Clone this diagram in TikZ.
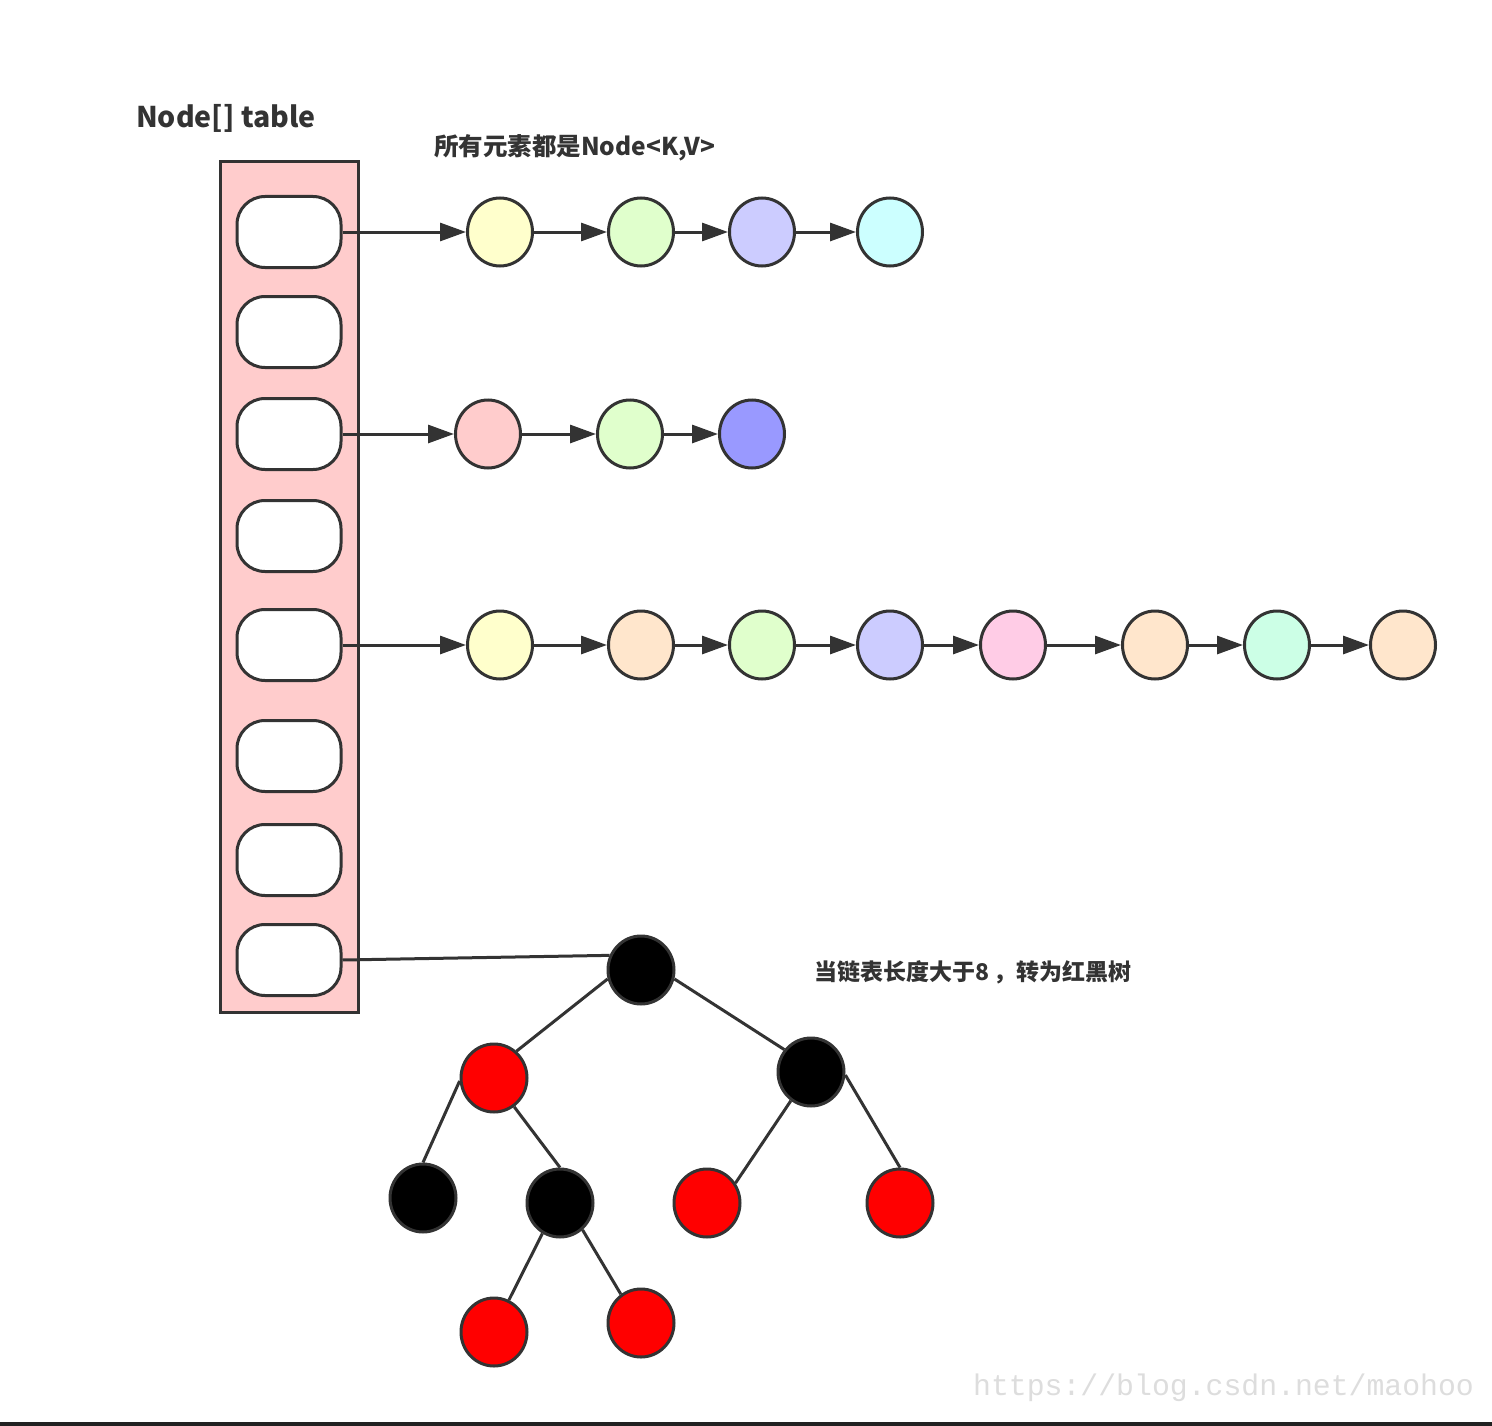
\documentclass[tikz,border=0pt]{standalone}
\usepackage{fontspec}
\newfontfamily\cjk{Noto Sans CJK SC}
\setmonofont{Liberation Mono}
\usetikzlibrary{arrows.meta,shapes.geometric}
\definecolor{ln}{HTML}{333333}
\definecolor{tbl}{HTML}{FFCCCC}
\definecolor{cY}{HTML}{FFFFCC}
\definecolor{cG}{HTML}{E0FFCC}
\definecolor{cL}{HTML}{CCCCFF}
\definecolor{cC}{HTML}{CCFFFF}
\definecolor{cP}{HTML}{FFCCCC}
\definecolor{cB}{HTML}{9999FF}
\definecolor{cO}{HTML}{FFE6CC}
\definecolor{cK}{HTML}{FFCCE6}
\definecolor{cM}{HTML}{CCFFE6}
\definecolor{rr}{HTML}{FF0000}
\definecolor{wm}{HTML}{DDDDDD}
\begin{document}
\begin{tikzpicture}[x=1pt,y=-1pt,
  slot/.style={draw=ln,line width=3pt,fill=white,rounded corners=28pt,minimum width=104pt,minimum height=71pt,inner sep=0pt},
  elem/.style={ellipse,draw=ln,line width=3pt,minimum width=65pt,minimum height=68pt,inner sep=0pt},
  tnode/.style={ellipse,draw=ln,line width=3pt,minimum width=66pt,minimum height=68pt,inner sep=0pt},
  link/.style={draw=ln,line width=3pt,-{Triangle[length=26pt,width=18pt]}},
  edge/.style={draw=ln,line width=3pt},
  lbl/.style={text=ln,font=\cjk\bfseries,inner sep=0pt}]
\useasboundingbox (0,0) rectangle (1492,1426);
\fill[white] (0,0) rectangle (1492,1426);
\fill[black!87] (0,1422) rectangle (1492,1426);
% table
\node[draw=ln,line width=3pt,fill=tbl,minimum width=138pt,minimum height=850pt,inner sep=0pt] (tab) at (289,587) {};
\node[lbl,font=\cjk\bfseries\fontsize{28.5}{32}\selectfont,anchor=west] (title) at (136,118) {Node[] table};
\node[lbl,font=\cjk\bfseries\fontsize{24.5}{28}\selectfont,anchor=west] (note1) at (434,148) {所有元素都是Node<K,V>};
\node[lbl,font=\cjk\bfseries\fontsize{23}{27}\selectfont,anchor=west] (note2) at (814,972) {当链表长度大于8\,，转为红黑树};
\foreach \i/\y in {1/232,2/332,3/434,4/536,5/645,6/756,7/860,8/960}
  \node[slot] (s\i) at (289,\y) {};
% row 1
\node[elem,fill=cY] (a1) at (500,232) {};
\node[elem,fill=cG] (a2) at (641,232) {};
\node[elem,fill=cL] (a3) at (762,232) {};
\node[elem,fill=cC] (a4) at (890,232) {};
\draw[link] (s1.east) -- (a1);
\draw[link] (a1) -- (a2);
\draw[link] (a2) -- (a3);
\draw[link] (a3) -- (a4);
% row 3
\node[elem,fill=cP] (b1) at (488,434) {};
\node[elem,fill=cG] (b2) at (630,434) {};
\node[elem,fill=cB] (b3) at (752,434) {};
\draw[link] (s3.east) -- (b1);
\draw[link] (b1) -- (b2);
\draw[link] (b2) -- (b3);
% row 5
\node[elem,fill=cY] (c1) at (500,645) {};
\node[elem,fill=cO] (c2) at (641,645) {};
\node[elem,fill=cG] (c3) at (762,645) {};
\node[elem,fill=cL] (c4) at (890,645) {};
\node[elem,fill=cK] (c5) at (1013,645) {};
\node[elem,fill=cO] (c6) at (1155,645) {};
\node[elem,fill=cM] (c7) at (1277,645) {};
\node[elem,fill=cO] (c8) at (1403,645) {};
\draw[link] (s5.east) -- (c1);
\draw[link] (c1) -- (c2);
\draw[link] (c2) -- (c3);
\draw[link] (c3) -- (c4);
\draw[link] (c4) -- (c5);
\draw[link] (c5) -- (c6);
\draw[link] (c6) -- (c7);
\draw[link] (c7) -- (c8);
% tree
\node[tnode,fill=black] (root) at (641,970) {};
\node[tnode,fill=rr] (l) at (494,1078) {};
\node[tnode,fill=black] (r) at (811,1072) {};
\node[tnode,fill=black] (ll) at (423,1198) {};
\node[tnode,fill=black] (lr) at (560,1203) {};
\node[tnode,fill=rr] (rl) at (707,1203) {};
\node[tnode,fill=rr] (rrn) at (900,1203) {};
\node[tnode,fill=rr] (lrl) at (494,1332) {};
\node[tnode,fill=rr] (lrr) at (641,1323) {};
\draw[edge] (s8.east) -- (root.155);
\draw[edge] (root.195) -- (l.50);
\draw[edge] (root.345) -- (r.140);
\draw[edge] (l.185) -- (ll.north);
\draw[edge] (l.305) -- (lr.north);
\draw[edge] (r.235) -- (rl.35);
\draw[edge] (r.355) -- (rrn.north);
\draw[edge] (lr.240) -- (lrl.65);
\draw[edge] (lr.310) -- (lrr.125);
% watermark
\node[text=wm,font=\ttfamily\fontsize{29.8}{32}\selectfont,anchor=west,inner sep=0pt] (wmk) at (973,1388) {https://blog.csdn.net/maohoo};
\end{tikzpicture}
\end{document}
